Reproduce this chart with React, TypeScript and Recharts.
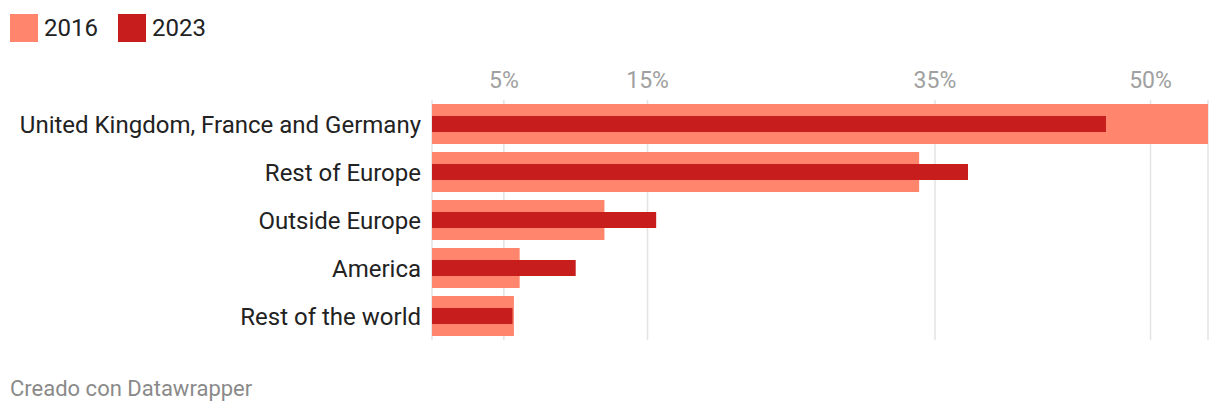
import { Bar, BarChart, CartesianGrid, XAxis, YAxis } from "recharts";

const regions = [
  "United Kingdom, France and Germany",
  "Rest of Europe",
  "Outside Europe",
  "America",
  "Rest of the world",
];
const share2016 = [54, 33.9, 12, 6.1, 5.7];
const share2023 = [46.9, 37.3, 15.6, 10, 5.6];
const xTicks = [5, 15, 35, 50];

const C2016 = "#ff866c";
const C2023 = "#c71e1d";
const FONT = "Roboto, 'Noto Sans', sans-serif";

const data = regions.map((name, i) => ({ name, y2016: share2016[i], y2023: share2023[i] }));

function LegendItem({ color, label }: { color: string; label: string }) {
  return (
    <div style={{ display: "flex", alignItems: "center", marginRight: 20 }}>
      <span style={{ width: 28, height: 28, background: color, marginRight: 6 }} />
      <span style={{ fontSize: 24, color: "#222" }}>{label}</span>
    </div>
  );
}

export default function App() {
  return (
    <div
      style={{
        position: "fixed",
        left: 0,
        top: 0,
        width: 1220,
        height: 414,
        background: "#fff",
        fontFamily: FONT,
      }}
    >
      <div style={{ position: "absolute", left: 10, top: 14, display: "flex" }}>
        <LegendItem color={C2016} label="2016" />
        <LegendItem color={C2023} label="2023" />
      </div>
      <BarChart
        width={1220}
        height={414}
        data={data}
        layout="vertical"
        margin={{ top: 60, right: 12, bottom: 74, left: 0 }}
        barCategoryGap={0}
      >
        <CartesianGrid horizontal={false} stroke="#e3e3e3" strokeWidth={1.5} />
        <XAxis
          type="number"
          orientation="top"
          domain={[0, 54]}
          ticks={xTicks}
          axisLine={false}
          tickLine={false}
          tickSize={0}
          tickMargin={12}
          height={40}
          tickFormatter={(v) => `${v}%`}
          tick={{ fill: "#a0a0a0", fontSize: 23, fontFamily: FONT }}
        />
        <YAxis
          yAxisId="a"
          type="category"
          dataKey="name"
          width={432}
          axisLine={false}
          tickLine={false}
          tickSize={0}
          tickMargin={11}
          interval={0}
          tick={{ fill: "#222", fontSize: 24, fontFamily: FONT }}
        />
        <YAxis yAxisId="b" type="category" dataKey="name" hide />
        <Bar yAxisId="a" dataKey="y2016" name="2016" fill={C2016} barSize={40} isAnimationActive={false} />
        <Bar yAxisId="b" dataKey="y2023" name="2023" fill={C2023} barSize={16} isAnimationActive={false} />
      </BarChart>
      <div style={{ position: "absolute", left: 10, top: 376, fontSize: 22, color: "#8a8a8a" }}>
        Creado con Datawrapper
      </div>
    </div>
  );
}
